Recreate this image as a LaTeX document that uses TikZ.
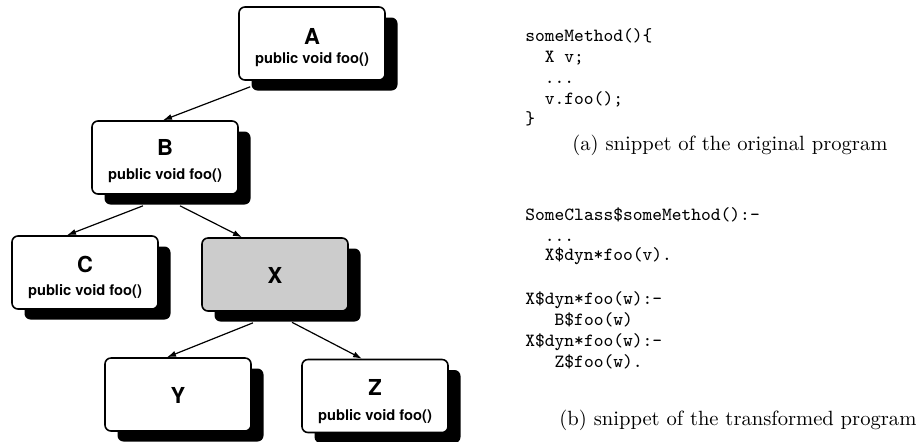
\documentclass[tikz,border=0pt]{standalone}
\usepackage{fontspec}
\usepackage{tikz}
\usetikzlibrary{shadows,arrows.meta}
\newfontfamily\heros{TeX Gyre Heros}

\begin{document}
\begin{tikzpicture}[x=0.5pt,y=-0.5pt,
  cls/.style={draw, line width=0.8pt, rounded corners=3pt, fill=white,
    minimum width=73pt, minimum height=36.5pt, inner sep=0pt,
    drop shadow={shadow xshift=6.25pt, shadow yshift=-5.25pt, fill=black, opacity=1}},
  clsname/.style={font=\heros\bfseries\fontsize{11}{11}\selectfont, inner sep=0pt, anchor=base},
  sig/.style={font=\heros\bfseries\fontsize{7.35}{9}\selectfont, inner sep=0pt, anchor=base},
  code/.style={font=\ttfamily\fontsize{9.3}{10.5}\selectfont, inner sep=0pt, anchor=base west},
  subcap/.style={font=\fontsize{10.3}{12}\selectfont, inner sep=0pt, anchor=base west},
  inh/.style={line width=0.6pt, -{Latex[length=4.5pt,width=3pt]}}]
  \useasboundingbox (0,0) rectangle (919,441);

  % class boxes
  \node[cls] (A) at (312,43.5) {};
  \node[cls] (B) at (165,157.5) {};
  \node[cls] (C) at (85,272.5) {};
  \node[cls,fill=black!20] (X) at (275,274.5) {};
  \node[cls] (Y) at (178,394.5) {};
  \node[cls] (Z) at (375,396) {};

  \node[clsname] (Aname) at ([shift={(0,0.5)}]A.center) {A};
  \node[sig] (Asig) at ([shift={(0,20)}]A.center) {public void foo()};
  \node[clsname] (Bname) at ([shift={(0,-2)}]B.center) {B};
  \node[sig] (Bsig) at ([shift={(0,22)}]B.center) {public void foo()};
  \node[clsname] (Cname) at ([shift={(0,0)}]C.center) {C};
  \node[sig] (Csig) at ([shift={(0,22.5)}]C.center) {public void foo()};
  \node[clsname,anchor=center] (Xname) at ([shift={(0,1)}]X.center) {X};
  \node[clsname,anchor=center] (Yname) at ([shift={(0,1)}]Y.center) {Y};
  \node[clsname] (Zname) at ([shift={(0,-1)}]Z.center) {Z};
  \node[sig] (Zsig) at ([shift={(0,24)}]Z.center) {public void foo()};

  \draw[inh] ([shift={(12,6)}]A.south west) -- ([shift={(-2,0)}]B.north);
  \draw[inh] ([shift={(-22,11)}]B.south) -- ([shift={(-18,0)}]C.north);
  \draw[inh] ([shift={(15,11)}]B.south) -- ([shift={(-33,0)}]X.north);
  \draw[inh] ([shift={(-22,11)}]X.south) -- ([shift={(-11,0)}]Y.north);
  \draw[inh] ([shift={(17,10.5)}]X.south) -- ([shift={(-13,0)}]Z.north);

  % original program
  \node[code] (a1) at (525,41) {someMethod()\{};
  \node[code] (a2) at (544.5,62) {X v;};
  \node[code] (a3) at (544.5,83) {...};
  \node[code] (a4) at (544.5,104) {v.foo();};
  \node[code] (a5) at (525,124.6) {\}};
  \node[subcap] (acap) at (572,150) {(a) snippet of the original program};

  % transformed program
  \node[code] (b1) at (525,220) {SomeClass\$someMethod():-};
  \node[code] (b2) at (544.5,241.5) {...};
  \node[code] (b3) at (544.5,260) {X\$dyn*foo(v).};
  \node[code] (b4) at (525,304) {X\$dyn*foo(w):-};
  \node[code] (b5) at (554.3,325) {B\$foo(w)};
  \node[code] (b6) at (525,346) {X\$dyn*foo(w):-};
  \node[code] (b7) at (554.3,367) {Z\$foo(w).};
  \node[subcap] (bcap) at (559,425) {(b) snippet of the transformed program};
\end{tikzpicture}
\end{document}
